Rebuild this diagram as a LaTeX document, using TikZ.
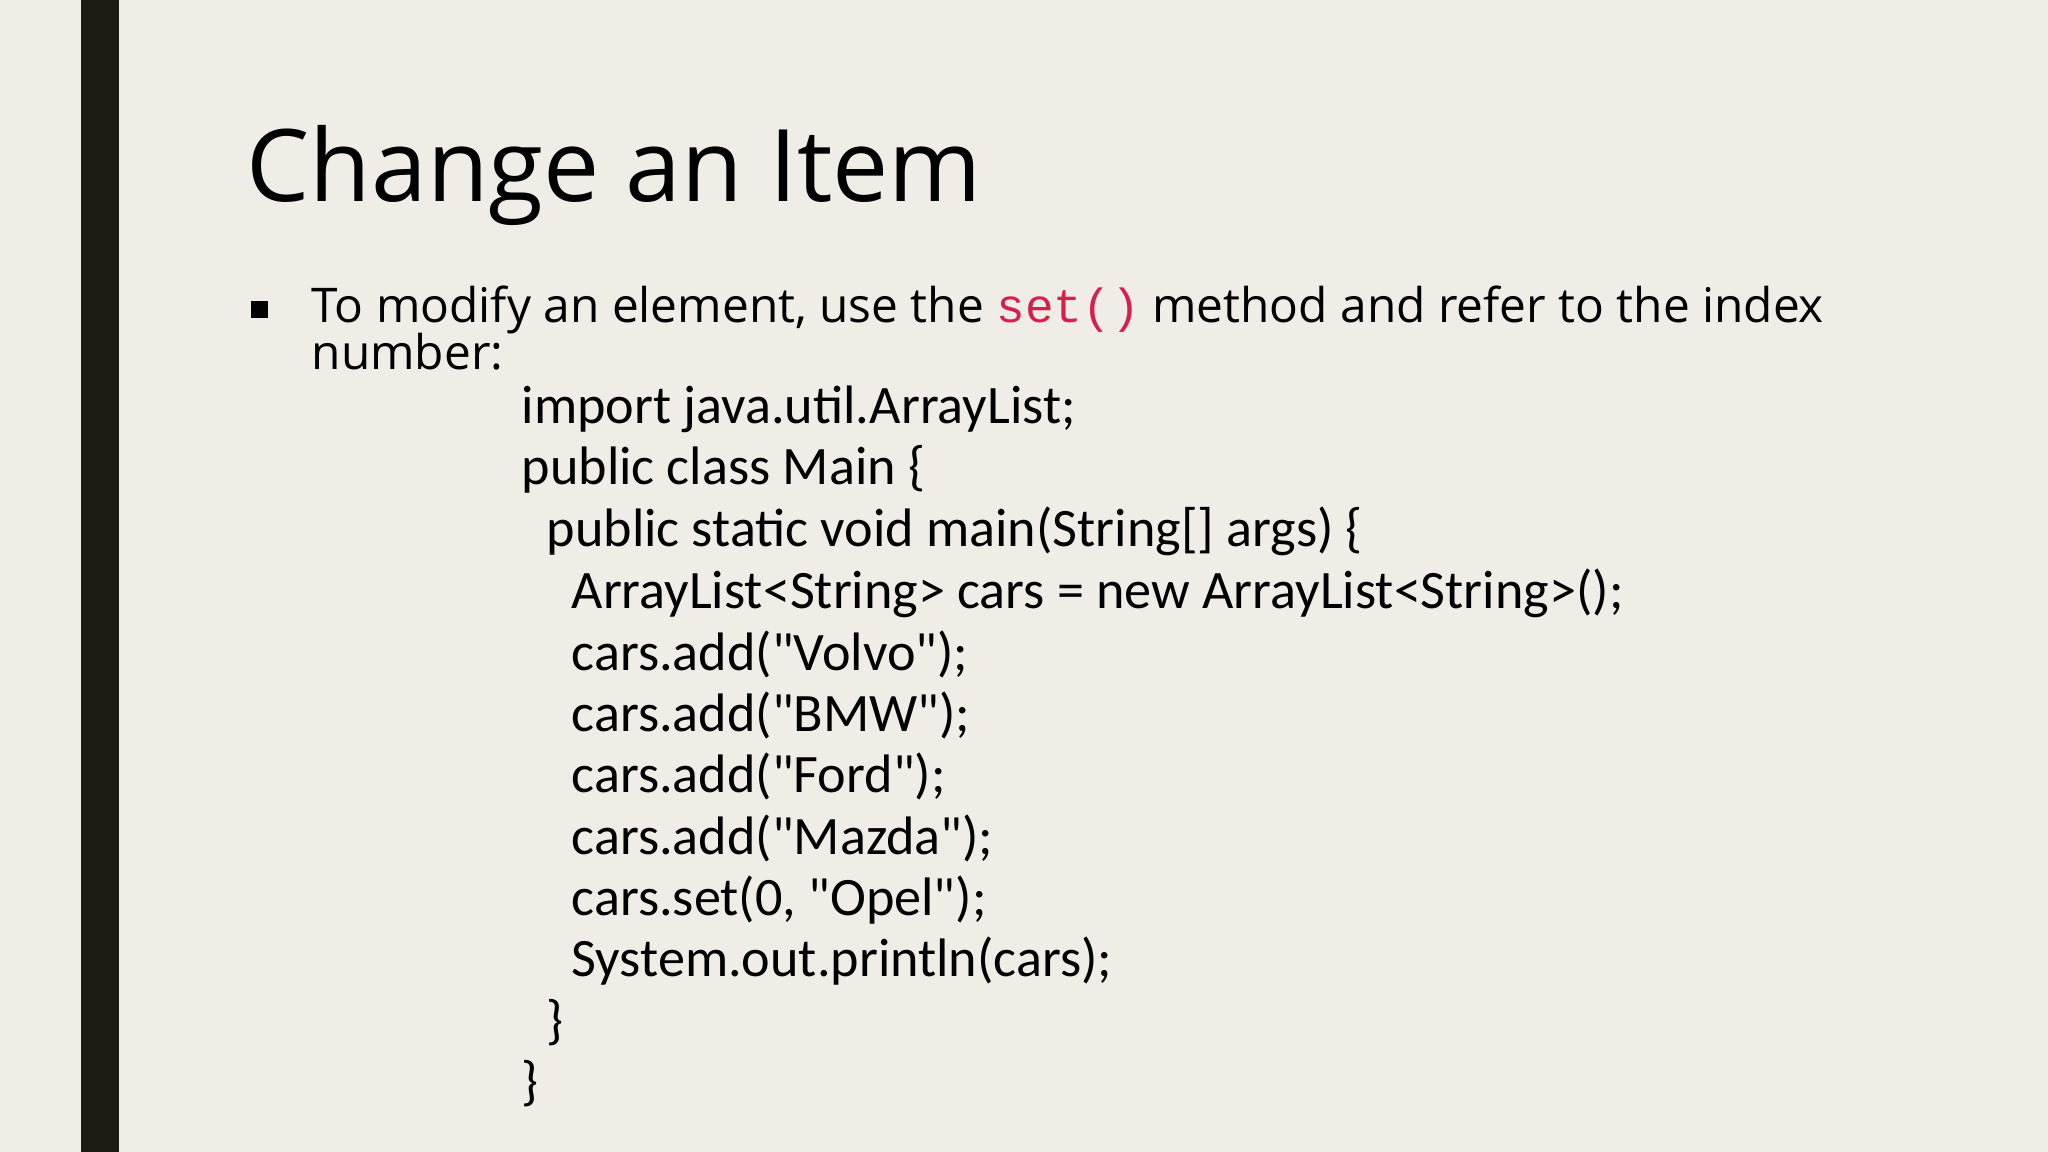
\documentclass[tikz,border=0pt]{standalone}
\usepackage{fontspec}
\setmainfont{Open Sans}
\newfontfamily\codefont{Carlito}
\newfontfamily\monofont{Liberation Mono}
\definecolor{bg}{HTML}{F0EDE6}
\definecolor{bar}{HTML}{1C1C12}
\definecolor{setred}{HTML}{D6204C}
\begin{document}
\begin{tikzpicture}[x=0.01cm,y=-0.01cm,
  txt/.style={anchor=base west,inner sep=0pt,font=\fontsize{13.6pt}{16pt}\selectfont},
  code/.style={anchor=base west,inner sep=0pt,font=\codefont\fontsize{15.4pt}{18pt}\selectfont}]
\fill[bg] (0,0) rectangle (2048,1152);
\useasboundingbox (0,0) rectangle (2048,1152);
\fill[bar] (81,0) rectangle (119,1152);
\node[anchor=base west,inner sep=0pt,font=\fontsize{28.5pt}{32pt}\selectfont] (title) at (246,202) {Change an Item};
\fill[black] (251,301) rectangle (268,318);
\node[txt] (l1) at (311,323) {To modify an element, use the {\monofont\color{setred}set()} method and refer to the index};
\node[txt] (l2) at (311,370) {number:};
\node[code] (c1) at (521,424) {import java.util.ArrayList;};
\node[code] (c2) at (521,485) {public class Main \{};
\node[code] (c3) at (546,547) {public static void main(String[] args) \{};
\node[code] (c4) at (571,608) {ArrayList<String> cars = new ArrayList<String>();};
\node[code] (c5) at (571,670) {cars.add("Volvo");};
\node[code] (c6) at (571,731) {cars.add("BMW");};
\node[code] (c7) at (571,792) {cars.add("Ford");};
\node[code] (c8) at (571,854) {cars.add("Mazda");};
\node[code] (c9) at (571,915) {cars.set(0, "Opel");};
\node[code] (c10) at (571,976) {System.out.println(cars);};
\node[code] (c11) at (546,1038) {\}};
\node[code] (c12) at (521,1099) {\}};
\end{tikzpicture}
\end{document}
